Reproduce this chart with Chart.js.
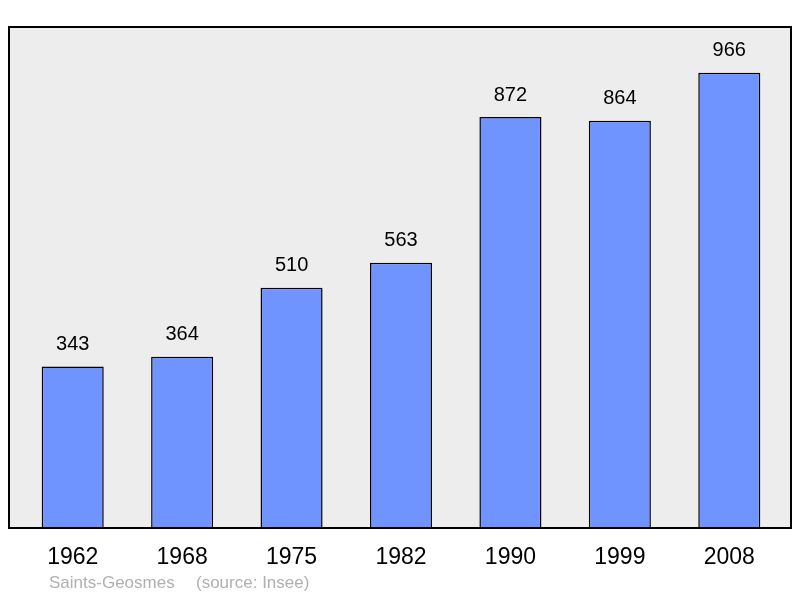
<!DOCTYPE html>
<html><head><meta charset="utf-8">
<script src="https://cdn.jsdelivr.net/npm/chart.js@4"></script>
<style>html,body{margin:0;padding:0;background:#fff}#w{width:800px;height:598px}</style>
</head><body><div id="w"><canvas id="c"></canvas></div>
<script>
const years = ["1962","1968","1975","1982","1990","1999","2008"];
const population = [343,364,510,563,872,864,966];
const captionName = "Saints-Geosmes";
const captionSource = "(source: Insee)";

const boxPlugin = {
  id:'box',
  beforeDraw(ch){
    const ctx=ch.ctx; ctx.save();
    ctx.fillStyle='#ededed'; ctx.strokeStyle='#000'; ctx.lineWidth=2;
    ctx.beginPath(); ctx.rect(9,27,782,501); ctx.fill(); ctx.stroke();
    ctx.restore();
  },
  afterDatasetsDraw(ch){
    const ctx=ch.ctx; ctx.save();
    ctx.font='20px "Liberation Sans", Arial'; ctx.fillStyle='#000';
    ctx.textAlign='center'; ctx.textBaseline='middle';
    ch.getDatasetMeta(0).data.forEach((b,i)=>{ ctx.fillText(String(population[i]), b.x, b.y-22); });
    ctx.font='17px "Liberation Sans", Arial'; ctx.fillStyle='#b0b0b0'; ctx.textAlign='left';
    ctx.fillText(captionName, 49, 583);
    ctx.fillText(captionSource, 196, 583);
    ctx.restore();
  }
};

new Chart(document.getElementById('c'),{
  type:'bar',
  data:{labels:years,datasets:[{data:population,backgroundColor:'#7094ff',borderColor:'#000',borderWidth:1.5,borderSkipped:false,barPercentage:0.567,categoryPercentage:1}]},
  options:{
    responsive:true,maintainAspectRatio:false,animation:false,
    layout:{padding:{left:18,right:16,top:27,bottom:12}},
    plugins:{legend:{display:false},tooltip:{enabled:false}},
    scales:{
      x:{grid:{display:false,drawTicks:false},border:{display:false},
         ticks:{padding:15,color:'#000',font:{family:'"Liberation Sans", Arial',size:23}}},
      y:{display:false,min:0,max:1063}
    }
  },
  plugins:[boxPlugin]
});
</script></body></html>
